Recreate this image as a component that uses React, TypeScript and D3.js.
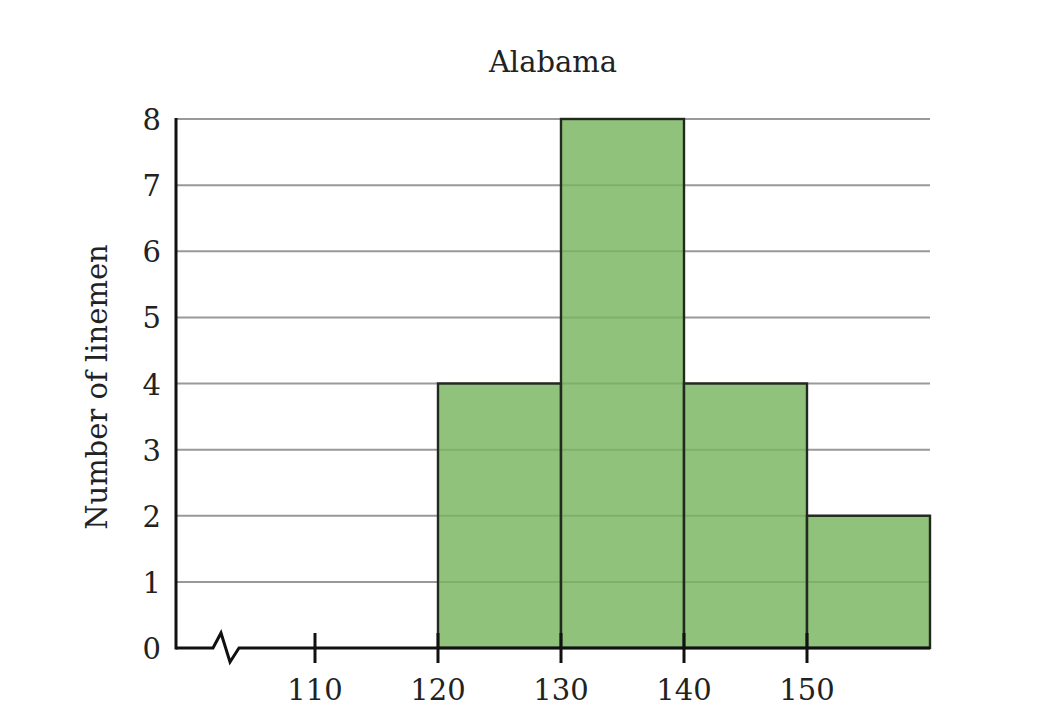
import React from "react";
import * as d3 from "d3";

const title = "Alabama";
const yLabel = "Number of linemen";
const binStarts = [120, 130, 140, 150];
const binWidth = 10;
const counts = [4, 8, 4, 2];
const xTicks = [110, 120, 130, 140, 150];
const yTicks = [0, 1, 2, 3, 4, 5, 6, 7, 8];

const W = 1055;
const H = 708;
const FONT = "'DejaVu Serif', 'Liberation Serif', serif";
const FS = 29;

export default function App() {
  const x = d3.scaleLinear().domain([98.7, 160]).range([176, 930]);
  const y = d3.scaleLinear().domain([0, 8]).range([648, 119]);
  const x0 = x.range()[0];
  const x1 = x.range()[1];
  const yb = y(0);
  const breakPath = `M${x0},${yb} L213,${yb} L221,633 L230,662 L239,${yb} L${x1},${yb}`;
  return (
    <svg
      width={W}
      height={H}
      style={{ position: "absolute", left: 0, top: 0, background: "#fff" }}
    >
      <text x={553} y={72} textAnchor="middle" fontFamily={FONT} fontSize={FS} fill="#222">
        {title}
      </text>
      {yTicks.filter((t) => t > 0).map((t) => (
        <line key={"g" + t} x1={x0} x2={x1} y1={y(t)} y2={y(t)} stroke="#999" strokeWidth={2} />
      ))}
      {binStarts.map((b, i) => (
        <rect
          key={"b" + i}
          x={x(b)}
          y={y(counts[i])}
          width={x(b + binWidth) - x(b)}
          height={yb - y(counts[i])}
          fill="rgb(120,180,95)"
          fillOpacity={0.82}
          stroke="#222a20"
          strokeWidth={2.4}
        />
      ))}
      <line x1={x0} x2={x0} y1={y(8) - 1} y2={yb + 1.5} stroke="#111" strokeWidth={3} />
      <path d={breakPath} fill="none" stroke="#111" strokeWidth={3} strokeLinejoin="miter" />
      {xTicks.map((t) => (
        <g key={"x" + t}>
          <line x1={x(t)} x2={x(t)} y1={633} y2={663} stroke="#111" strokeWidth={3} />
          <text x={x(t)} y={700} textAnchor="middle" fontFamily={FONT} fontSize={FS} fill="#222">
            {t}
          </text>
        </g>
      ))}
      {yTicks.map((t) => (
        <text key={"y" + t} x={161} y={y(t) + 11} textAnchor="end" fontFamily={FONT} fontSize={FS} fill="#222">
          {t}
        </text>
      ))}
      <text
        transform={`translate(107,${387}) rotate(-90)`}
        textAnchor="middle"
        fontFamily={FONT}
        fontSize={FS}
        fill="#222"
      >
        {yLabel}
      </text>
    </svg>
  );
}
